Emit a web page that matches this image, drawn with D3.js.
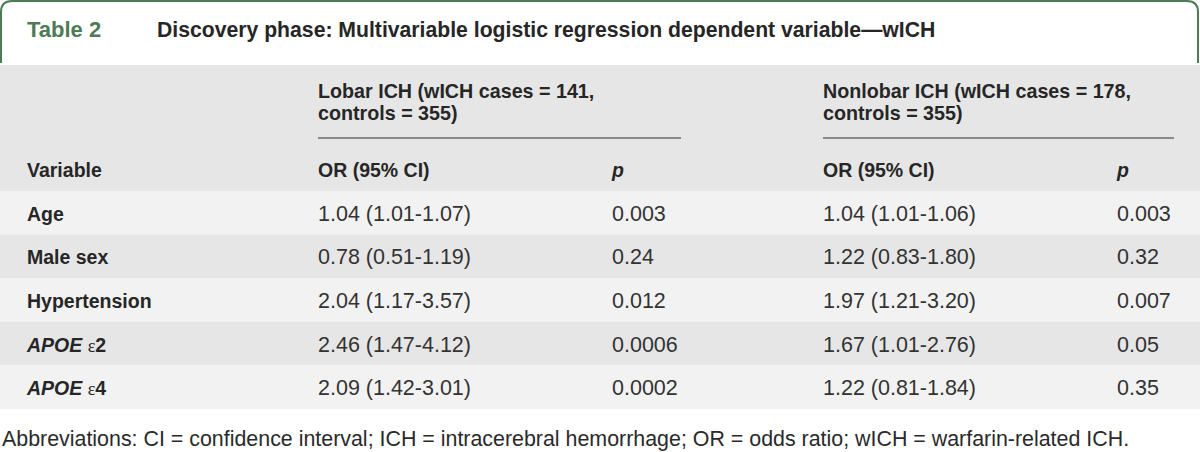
<!DOCTYPE html>
<html>
<head>
<meta charset="utf-8">
<script src="https://cdn.jsdelivr.net/npm/d3@7"></script>
<style>
  html, body { margin: 0; padding: 0; background: #ffffff; }
  svg { display: block; font-family: "Liberation Sans", Arial, sans-serif; }
</style>
</head>
<body>
<svg id="chart" width="1200" height="452"></svg>
<script>
// ---- data ----
const tableLabel = "Table 2";
const tableTitle = "Discovery phase: Multivariable logistic regression dependent variable\u2014wICH";
const groupHeaders = [
  ["Lobar ICH (wICH cases = 141,", "controls = 355)"],
  ["Nonlobar ICH (wICH cases = 178,", "controls = 355)"]
];
const columnHeaders = ["Variable", "OR (95% CI)", "p", "OR (95% CI)", "p"];
const variables = ["Age", "Male sex", "Hypertension", "APOE \u03b52", "APOE \u03b54"];
const lobarOR = ["1.04 (1.01-1.07)", "0.78 (0.51-1.19)", "2.04 (1.17-3.57)", "2.46 (1.47-4.12)", "2.09 (1.42-3.01)"];
const lobarP = ["0.003", "0.24", "0.012", "0.0006", "0.0002"];
const nonlobarOR = ["1.04 (1.01-1.06)", "1.22 (0.83-1.80)", "1.97 (1.21-3.20)", "1.67 (1.01-2.76)", "1.22 (0.81-1.84)"];
const nonlobarP = ["0.003", "0.32", "0.007", "0.05", "0.35"];
const footnote = "Abbreviations: CI = confidence interval; ICH = intracerebral hemorrhage; OR = odds ratio; wICH = warfarin-related ICH.";

// ---- layout ----
const svg = d3.select("#chart");
const W = 1200;
const green = "#4e7b57";
const textDark = "#262626";

const colKeys = ["var", "lor", "lp", "nor", "np"];
const x = d3.scaleOrdinal().domain(colKeys).range([27, 318, 612, 823, 1117]);
const y = d3.scaleBand().domain(variables).range([191, 409]).paddingInner(0).paddingOuter(0);

// title frame
svg.append("path")
  .attr("d", `M1,63 V12 Q1,1 12,1 H1187 Q1198,1 1198,12 V63`)
  .attr("fill", "none").attr("stroke", green).attr("stroke-width", 2);

svg.append("text").attr("x", 27).attr("y", 37)
  .attr("font-size", 22).attr("font-weight", "bold").attr("fill", green)
  .text(tableLabel);
svg.append("text").attr("x", 157).attr("y", 37)
  .attr("font-size", 21.2).attr("font-weight", "bold").attr("fill", textDark)
  .text(tableTitle);

// header background
svg.append("rect").attr("x", 0).attr("y", 65).attr("width", W).attr("height", 126).attr("fill", "#e6e6e6");

// group headers
const groupCols = ["lor", "nor"];
const groupEnds = [681, 1174];
groupHeaders.forEach((lines, i) => {
  const t = svg.append("text").attr("font-size", 19.7).attr("font-weight", "bold").attr("fill", textDark);
  lines.forEach((ln, j) => {
    t.append("tspan").attr("x", x(groupCols[i])).attr("y", 98 + j * 22).text(ln);
  });
  svg.append("line")
    .attr("x1", x(groupCols[i])).attr("x2", groupEnds[i])
    .attr("y1", 138).attr("y2", 138)
    .attr("stroke", "#8a8a8a").attr("stroke-width", 2);
});

// column headers
columnHeaders.forEach((h, i) => {
  svg.append("text").attr("x", x(colKeys[i])).attr("y", 177)
    .attr("font-size", 19.5).attr("font-weight", "bold").attr("fill", textDark)
    .attr("font-style", h === "p" ? "italic" : "normal")
    .text(h);
});

// rows
const rows = svg.append("g").selectAll("g").data(variables).join("g");
rows.append("rect")
  .attr("x", 0).attr("width", W)
  .attr("y", d => y(d)).attr("height", y.bandwidth())
  .attr("fill", (d, i) => i % 2 === 0 ? "#f2f2f2" : "#e6e6e6");

rows.each(function(d, i) {
  const g = d3.select(this);
  const base = y(d) + y.bandwidth() / 2 + 8;
  const lab = g.append("text").attr("x", x("var")).attr("y", base)
    .attr("font-size", 19.5).attr("font-weight", "bold").attr("fill", textDark);
  if (d.startsWith("APOE")) {
    const rest = d.slice(5);
    lab.append("tspan").attr("font-style", "italic").text("APOE ");
    lab.append("tspan").attr("font-family", "Liberation Serif, serif").attr("font-weight", "normal").attr("font-size", 18).text(rest[0]);
    lab.append("tspan").text(rest.slice(1));
  } else {
    lab.text(d);
  }
  const vals = [lobarOR[i], lobarP[i], nonlobarOR[i], nonlobarP[i]];
  ["lor", "lp", "nor", "np"].forEach((k, j) => {
    g.append("text").attr("x", x(k)).attr("y", base)
      .attr("font-size", 21.5).attr("fill", "#333333")
      .text(vals[j]);
  });
});

// footnote
svg.append("text").attr("x", 2).attr("y", 446)
  .attr("font-size", 21.4).attr("fill", "#2a2a2a")
  .text(footnote);
</script>
</body>
</html>
